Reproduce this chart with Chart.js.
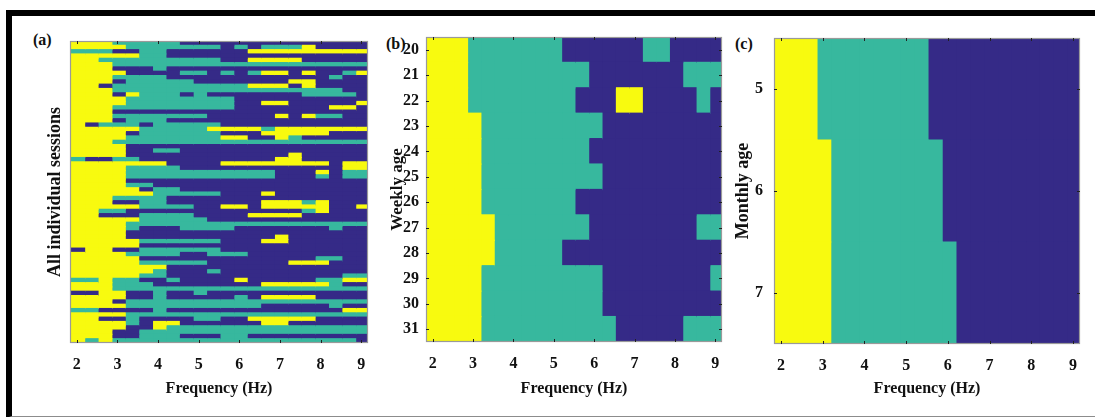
<!DOCTYPE html>
<html><head><meta charset="utf-8">
<script src="https://cdn.jsdelivr.net/npm/chart.js@4.4.1/dist/chart.umd.min.js"></script>
<style>
html,body{margin:0;padding:0;background:#fff;width:1095px;height:417px;overflow:hidden;position:relative;}
#frame{position:absolute;left:6px;top:10px;width:1100px;height:400px;border-top:6px solid #000;border-left:6px solid #000;border-bottom:2px solid #8c8c8c;}
canvas{position:absolute;top:0;}
.lbl{position:absolute;font-family:"Liberation Serif",serif;font-weight:bold;font-size:16px;color:#111;}
</style></head><body>
<div id="frame"></div>
<div class="lbl" style="left:33px;top:31px">(a)</div>
<div class="lbl" style="left:386px;top:35px">(b)</div>
<div class="lbl" style="left:735px;top:35px">(c)</div>
<canvas id="ca" width="380" height="417" style="left:0px;width:380px;height:417px"></canvas>
<canvas id="cb" width="350" height="417" style="left:380px;width:350px;height:417px"></canvas>
<canvas id="cc" width="360" height="417" style="left:730px;width:360px;height:417px"></canvas>
<script>
// frequency bin centres (Hz) and x tick labels
const freqBins = [2.00,2.33,2.67,3.00,3.33,3.67,4.00,4.33,4.67,5.00,5.33,5.67,6.00,6.33,6.67,7.00,7.33,7.67,8.00,8.33,8.67,9.00];
const freqTicks = [2,3,4,5,6,7,8,9];
// level codes per frequency bin: Y = high (yellow), T = middle (teal), B = low (blue)
const sessionRows = [
"YYYTTTTTBBBBBBBBBBBBBB","YYYYTTTTTTTBTBTTTYBBBB","TTTBBTTBBBBBBYYYYYYYYY","YYYYYTTBBBBBBBBBBBBBBB",
"YYTTTTTTTTTBBYYYYBBBBB","YYYTTTTTTTTTTTTTTTTTTT","YYYBBBTBBBBBBBBBBBBBBB","YYYYBBBBTTBTBTYYBYBBTY",
"YYYTTTTBBBBBBBBBBBBTBB","YYYBTTTTTBBBBBBBYYBBBB","YYBTTTTTTTTTTYYYBYBBBB","YYYTTTTTTTTTTTTTTTTTBB",
"YYYBYTTTBTBBBBBBBTTTTB","YYYYTTTTTTTTBBBBBBBBBB","YYYYTTTTTTTTBBYYBBBBBY","YYYTTTTTTTTTBBBBBBBYYB",
"YYYBBBBBBBBBBBBBBBBBBB","YYYTTTTTTTBBBBBYBYTTBB","YYYBTTTBBBBBBBBBBBBBBB","YBTTTBTTTTTBBBBBBBBBBB",
"YYYYYTTTTTYYYYTYYYYYYY","YYYYBTTTTTTBBBYYYYYBBB","YYYYTTTTTTTYYBBYTBBBBB","YYYTTTTTTTTTTTTTTTTTTT",
"YYYYBBBBBBBBBBBBBBBBBB","YYYYBBTTBBBBBBBBBBBBBB","YYYYBBBBBBBBBBBBYBBBBB","TBBTTBBBBBBBBBBYYBBBBB",
"YYYYYYYBBBBYYYYYYYYBYY","YYYYTTTTBBBBBBBBBBBBYY","YYYYTTTTTTTTTTTBBBYBTT","YYYYTTTTTTTTTTTBBBTBTT",
"YYYYBBBBBBBBBBBBBBBBBB","YYYYTTBBBBBBBBBBBBBBBB","YYYYYBTTBBBBBBBBBBBBBB","YYYYYYTTTTTBBBYBBBBBBB",
"YYYTTTTBBBBBBBBBBBBBBB","YYYBBTTBBBBBBBYYYTYBBB","YYYYYTTTTBBYYBYYYYYBBY","YYTTBBBBBBBBBBBBBTYBBB",
"YYBBBTTTTBBBBYYYYBBBBB","YYYYYTTTTTBBBBBBBBBBBB","YYYYTTTTTTTTTTTTTTTTTT","YYYYTBBBTTTTBBBBBBBTBB",
"YYYYBBBBBBBBBBBBBBBBBB","YYYYBBBBBBBBBBBYBBBBBB","YYYYYTTTTTTBBBYYBBBBBB","YYYYYBBBBBBBBBBBBBBBBB",
"BYYBBTTTTTTBBBBBBBBBBB","YYYYTTTTBBTTTBBBBBBBBB","YYYYYBBBBBBBBBBBBBTTBB","YYYYYTTTTTBBBBBBYYYBBB",
"YYYYYYYBBBBBBBBBBBBBBB","YYYYYYTBBBTBBBBBBBBBBB","YYYYYTTBBBBBBBBBBBBBTT","TTYTTBBTBBBBYBBBBBTTYY",
"YYYTTTBBBBBBBBYYYYYTBB","YYYTTTTTTTTTTTTTTTTTTT","BBYYBBTBBTBBBBBBBBBBBB","YYYYBBTBBBBBTBYYYYBBBB",
"YYYBTTTTTTTTTTTTTTTTTT","YYYYTTTTTTTTTTBBBBBTBB","TTBBBBTBBBBBBBBBBBBBYY","YYYYTTTTTTTTTTTTTTTTTT",
"YYBBTBBBBTTBBYYYYYBBBB","YYYYTBYYBBBBBBYYBBBBBB","YYYYBBYTTTTTTTTTTTTTTT","YYYBBTTTTTTTTTTTTTTTTT",
"YYYBBTTTBBBTTBBBBBBBBB","YTYTTTTTTTTTTTTTTTTTTB"
];
const weeklyAges = ["20","21","22","23","24","25","26","27","28","29","30","31"];
const weeklyRows = [
"YYYTTTTTTTBBBBBBTTBBBB","YYYTTTTTTTTTBBBBBBBTTT","YYYTTTTTTTTBBBYYBBBBTB","YYYYTTTTTTTTTBBBBBBBBB",
"YYYYTTTTTTTTBBBBBBBBBB","YYYYTTTTTTTTTBBBBBBBBB","YYYYTTTTTTTBBBBBBBBBBB","YYYYYTTTTTTTBBBBBBBBTT",
"YYYYYTTTTTBBBBBBBBBBBB","YYYYTTTTTTTTTBBBBBBBBT","YYYYTTTTTTTTTBBBBBBBBB","YYYYTTTTTTTTTTBBBBBTTT"
];
const monthlyAges = ["5","6","7"];
const monthlyRows = [
"YYYTTTTTTTTBBBBBBBBBBB","YYYYTTTTTTTTBBBBBBBBBB","YYYYTTTTTTTTTBBBBBBBBB"
];
const levelColors = {Y:"#f8fa0f", T:"#37b89e", B:"#352a87"};

const FONT = "'Liberation Serif', serif";
const boxPlugin = {
  id:'box',
  afterDatasetsDraw(chart, args, opts){
    const {ctx, chartArea:a, scales} = chart;
    ctx.save();
    ctx.strokeStyle = '#9a9a9a'; ctx.lineWidth = 1.2;
    ctx.strokeRect(a.left+0.5, a.top+0.5, a.width-1, a.height-1);
    ctx.strokeStyle = '#222'; ctx.lineWidth = 1;
    scales.x.ticks.forEach(t => {
      const px = Math.round(scales.x.getPixelForValue(t.value)) + 0.5;
      ctx.beginPath();
      ctx.moveTo(px, a.bottom); ctx.lineTo(px, a.bottom - 3);
      ctx.moveTo(px, a.top); ctx.lineTo(px, a.top + 3);
      ctx.stroke();
    });
    if (opts.yTicks) {
      scales.y.ticks.forEach((t, i) => {
        const py = Math.round(scales.y.getPixelForTick(i)) + 0.5;
        ctx.beginPath();
        ctx.moveTo(a.left, py); ctx.lineTo(a.left + 3, py);
        ctx.moveTo(a.right, py); ctx.lineTo(a.right - 3, py);
        ctx.stroke();
      });
    }
    ctx.restore();
  }
};

function makeHeatmap(id, rowLabels, rows, cfg){
  // each bin spans its centre +/- 1/6 Hz; the right end reaches a little further so the next bin covers the seam
  const datasets = freqBins.map((f, j) => ({
    data: rows.map(() => [f - 1/6, f + 1/6 + 0.04]),
    backgroundColor: rows.map(r => levelColors[r[j]]),
    borderWidth: 0,
    grouped: false,
    barPercentage: cfg.barPct,
    categoryPercentage: 1
  }));
  return new Chart(document.getElementById(id), {
    type: 'bar',
    data: { labels: rowLabels, datasets },
    plugins: [boxPlugin],
    options: {
      indexAxis: 'y',
      responsive: false,
      animation: false,
      devicePixelRatio: 1,
      layout: { padding: { top: cfg.top, right: cfg.right, left: 0, bottom: 0 } },
      plugins: { legend: {display:false}, tooltip: {enabled:false}, box: { yTicks: cfg.yTicks } },
      scales: {
        x: {
          type: 'linear', min: 1.8333, max: 9.1667,
          afterBuildTicks(s){ s.ticks = freqTicks.map(v => ({value: v})); },
          afterFit(s){ s.height = cfg.xHeight; s.paddingLeft = 0; s.paddingRight = 0; },
          grid: { display: false, drawTicks: false },
          border: { display: false },
          ticks: { padding: 12, color: '#111', font: { family: FONT, size: 16, weight: 'bold' }, callback: v => String(v) },
          title: { display: true, text: 'Frequency (Hz)', color: '#111', padding: { top: 0, bottom: 19 },
                   font: { family: FONT, size: 16, weight: 'bold' } }
        },
        y: {
          type: 'category',
          afterFit(s){ s.width = cfg.yWidth; s.paddingTop = 0; s.paddingBottom = 0; },
          grid: { display: false, drawTicks: false },
          border: { display: false },
          ticks: { display: cfg.yLabels, padding: cfg.yPad, color: '#111', autoSkip: false,
                   font: { family: FONT, size: 16, weight: 'bold' } },
          title: { display: true, text: cfg.yTitle, color: '#111', padding: { top: cfg.yTitlePad, bottom: 0 },
                   font: { family: FONT, size: cfg.yTitleSize, weight: 'bold' } }
        }
      }
    }
  });
}

// canvas a: left 0, plot 70..368 ; canvas b: left 380, plot 426..722 ; canvas c: left 730, plot 774..1080
makeHeatmap('ca', sessionRows.map((r, i) => String(i + 1)), sessionRows,
  { top: 41, right: 380 - 368, xHeight: 74, yWidth: 70, yLabels: false, yPad: 6, yTitle: 'All individual sessions',
    yTitlePad: 45, yTitleSize: 18, barPct: 1.25, yTicks: false });
makeHeatmap('cb', weeklyAges, weeklyRows,
  { top: 37, right: 350 - 342, xHeight: 75, yWidth: 46, yLabels: true, yPad: 7, yTitle: 'Weekly age',
    yTitlePad: 7, yTitleSize: 17, barPct: 1.05, yTicks: true });
makeHeatmap('cc', monthlyAges, monthlyRows,
  { top: 38, right: 360 - 350, xHeight: 73, yWidth: 44, yLabels: true, yPad: 11, yTitle: 'Monthly age',
    yTitlePad: 3, yTitleSize: 18, barPct: 1.012, yTicks: true });
</script>
</body></html>
